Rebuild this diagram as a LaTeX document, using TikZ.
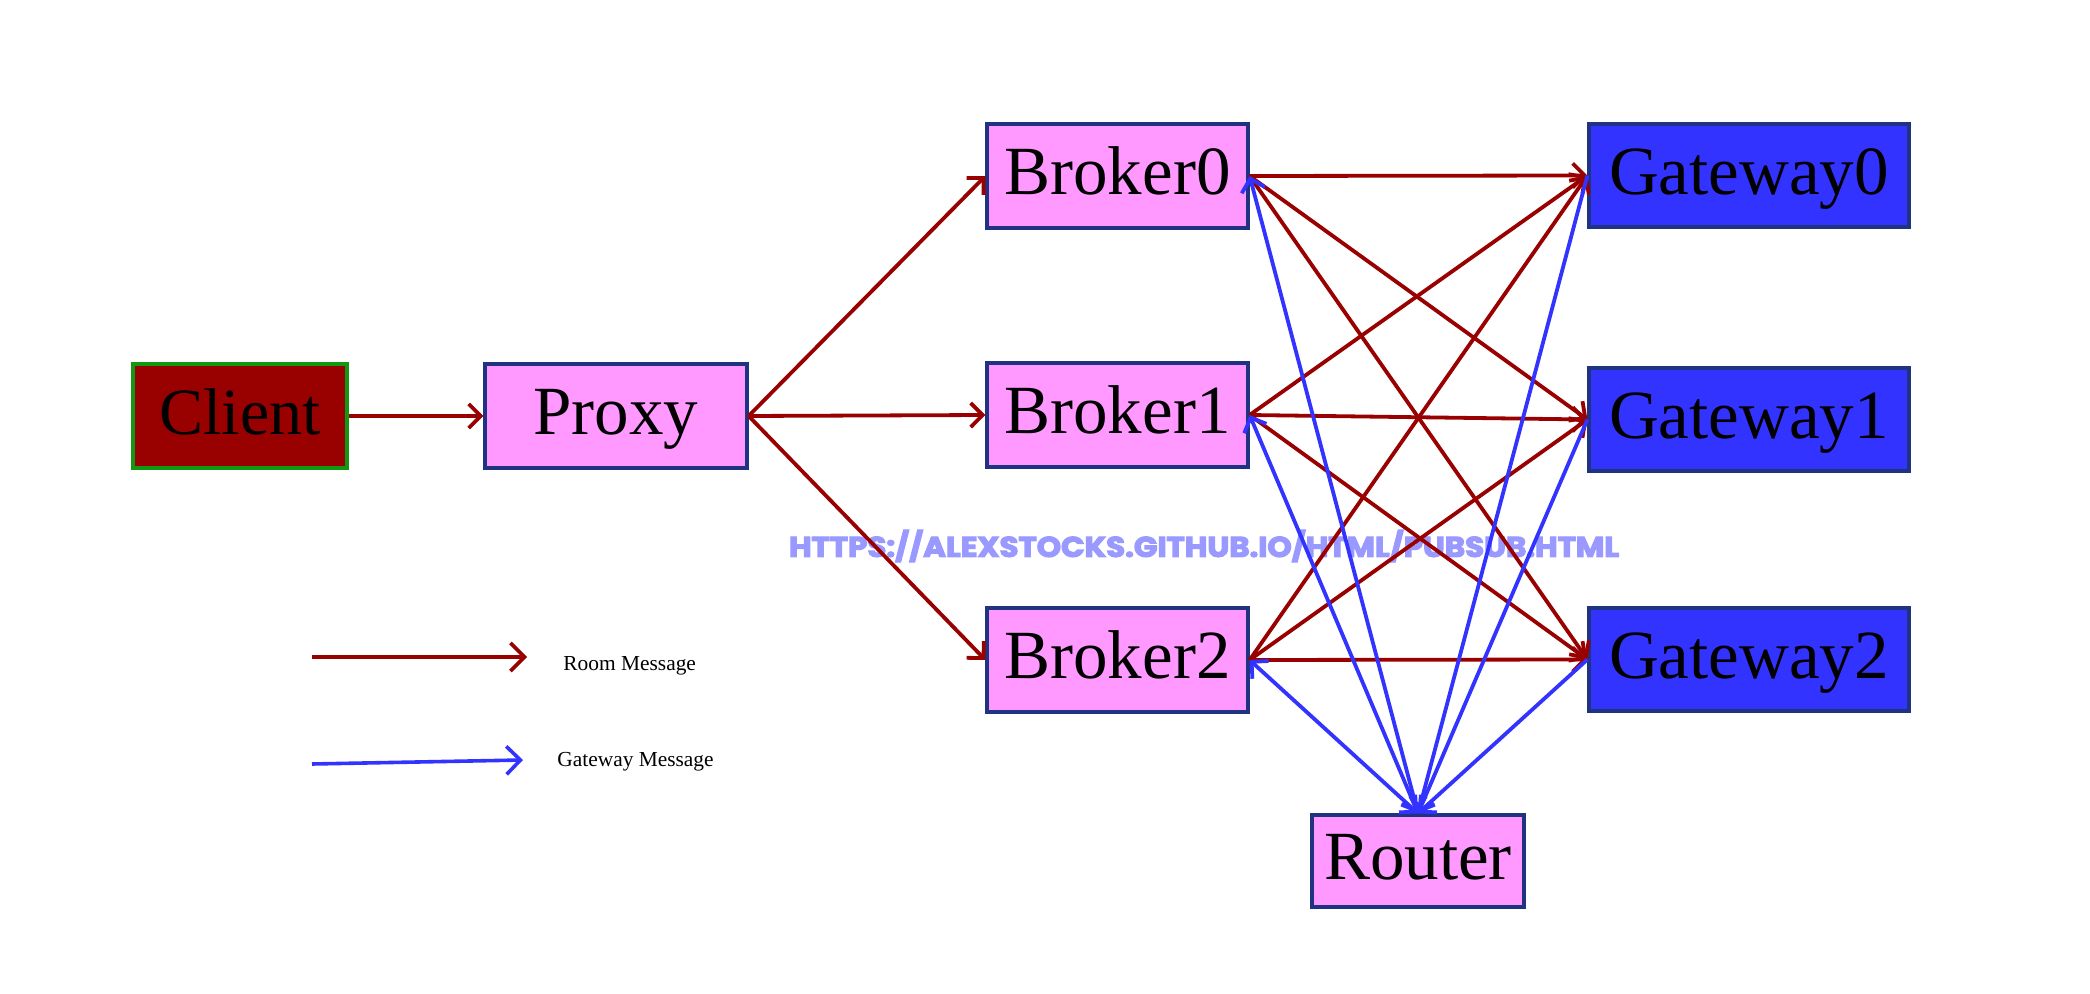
\documentclass[tikz,border=0pt]{standalone}
\usepackage{fontspec}
\setmainfont{Liberation Serif}
\newfontfamily\wmfont[FakeBold=4]{Poppins}
\usetikzlibrary{arrows.meta}
\definecolor{rmred}{HTML}{990000}
\definecolor{gwblue}{HTML}{3333FF}
\definecolor{pinkfill}{HTML}{FF99FF}
\definecolor{navyline}{HTML}{1F3380}
\definecolor{clgreen}{HTML}{119911}
\definecolor{wmblue}{HTML}{9999FF}
\tikzset{
  box/.style={draw=navyline, line width=1.6pt, inner sep=0pt, text=black,
    font=\fontsize{34.5}{40}\selectfont, text height=22.8pt, text depth=4pt},
  pinkbox/.style={box, fill=pinkfill, minimum width=130.5pt, minimum height=52pt},
  gwbox/.style={box, fill=gwblue, minimum width=160pt, minimum height=51.5pt},
  tipsm/.tip={Straight Barb[length=6pt,width=12pt]},
  tiplg/.tip={Straight Barb[length=7pt,width=14pt]},
  room/.style={draw=rmred, line width=1.9pt, -tipsm},
  gwmsg/.style={draw=gwblue, line width=1.9pt, -tipsm},
  gwboth/.style={draw=gwblue, line width=1.9pt, tipsm-tipsm},
  legtext/.style={anchor=west, inner sep=0pt, font=\fontsize{10.7}{12}\selectfont}
}
\begin{document}
\begin{tikzpicture}[x=0.5pt,y=-0.5pt]
\useasboundingbox (0,0) rectangle (2090,994);
% watermark
\node[text=wmblue, inner sep=0pt] (wm) at (1204,546)
  {\resizebox{415pt}{13.5pt}{\wmfont\bfseries HTTPS://ALEXSTOCKS.GITHUB.IO/HTML/PUBSUB.HTML}};
% nodes
\node[box, fill=rmred, draw=clgreen, minimum width=107pt, minimum height=52pt,
  font=\fontsize{33}{40}\selectfont] (client) at (240,416) {Client};
\node[pinkbox, minimum width=131pt] (proxy) at (616,416) {Proxy};
\node[pinkbox] (broker0) at (1117.5,176) {Broker0};
\node[pinkbox] (broker1) at (1117.5,415) {Broker1};
\node[pinkbox] (broker2) at (1117.5,660) {Broker2};
\node[gwbox] (gw0) at (1749,175.5) {Gateway0};
\node[gwbox] (gw1) at (1749,419.5) {Gateway1};
\node[gwbox] (gw2) at (1749,659.5) {Gateway2};
\node[pinkbox, minimum width=106pt, minimum height=46pt] (router) at (1418,861) {Router};
% room message edges
\draw[room] (client.east) -- (proxy.west);
\foreach \b in {0,1,2} {\draw[room] (proxy.east) -- (broker\b.west);}
\foreach \b in {0,1,2} {\foreach \g in {0,1,2} {\draw[room] (broker\b.east) -- (gw\g.west);}}
% gateway message edges
\foreach \b in {0,1,2} {\draw[gwboth] (broker\b.east) -- (router.north);}
\foreach \g in {0,1,2} {\draw[gwmsg] (gw\g.west) -- (router.north);}
% legend
\coordinate (l1s) at (312,657);
\coordinate (l1e) at (527,657);
\coordinate (l2s) at (312,764);
\coordinate (l2e) at (523,760);
\draw[draw=rmred, line width=1.8pt, -tiplg] (l1s) -- (l1e);
\draw[draw=gwblue, line width=1.8pt, -tiplg] (l2s) -- (l2e);
\node[legtext] (lt1) at (563,666) {Room Message};
\node[legtext] (lt2) at (557,762) {Gateway Message};
\end{tikzpicture}
\end{document}
